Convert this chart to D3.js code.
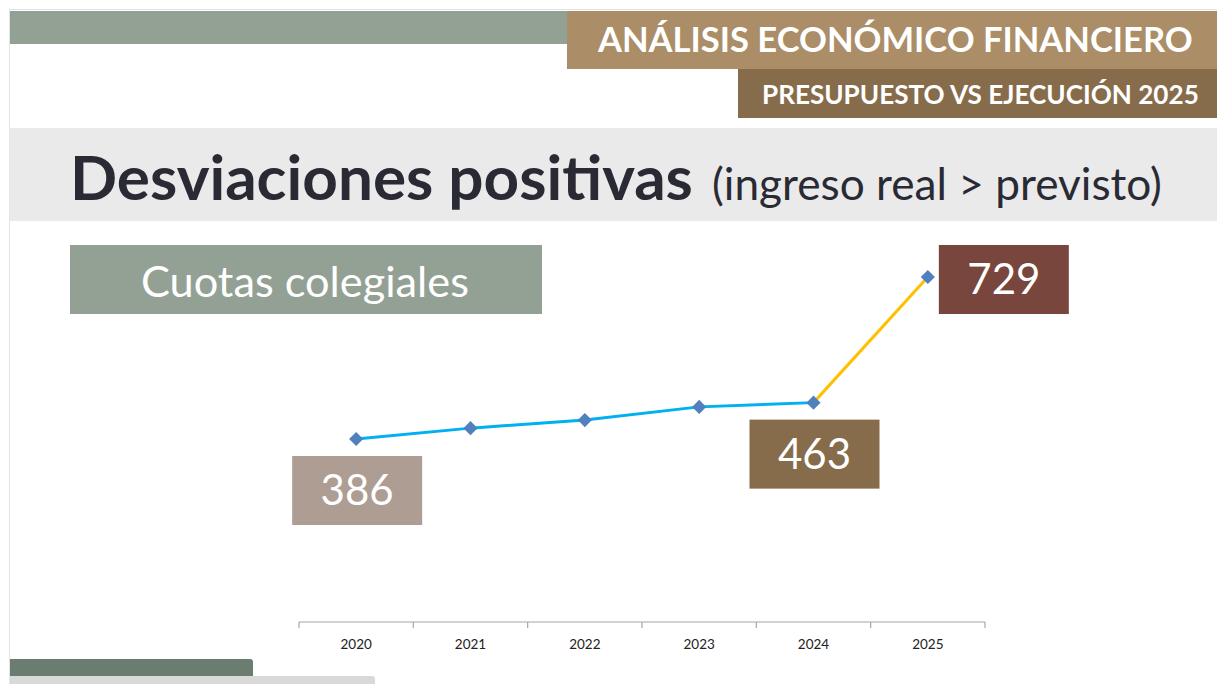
<!DOCTYPE html>
<html>
<head>
<meta charset="utf-8">
<script src="https://cdn.jsdelivr.net/npm/d3@7"></script>
<style>
  html, body { margin: 0; padding: 0; background: #ffffff; }
  svg { display: block; }
  text { font-family: Lato, "Open Sans", sans-serif; }
</style>
</head>
<body>
<svg id="chart" width="1217" height="684"></svg>
<script>
// ---- data ----
const years = ["2020", "2021", "2022", "2023", "2024", "2025"];
const values = [386, 409, 426, 454, 463, 729];
const labelIndex = [0, 4, 5];
const labelColors = ["#ae9d93", "#876c4b", "#78463d"];
const headerTitle = "ANÁLISIS ECONÓMICO FINANCIERO";
const headerSub = "PRESUPUESTO VS EJECUCIÓN 2025";
const titleMain = "Desviaciones positivas";
const titleNote = "(ingreso real > previsto)";
const seriesName = "Cuotas colegiales";

const svg = d3.select("#chart");

function fitText(sel, target) {
  const w = sel.node().getComputedTextLength();
  const fs = parseFloat(sel.attr("font-size"));
  sel.attr("font-size", fs * target / w);
  return sel;
}

// slide border
svg.append("rect").attr("x", 9.5).attr("y", 9.5).attr("width", 1220).attr("height", 700)
  .attr("fill", "#ffffff").attr("stroke", "#e3e3e3").attr("stroke-width", 1);

// top header
svg.append("rect").attr("x", 10).attr("y", 11).attr("width", 557).attr("height", 33).attr("fill", "#93a195");
svg.append("rect").attr("x", 567).attr("y", 11).attr("width", 650).attr("height", 58).attr("fill", "#ab8e68");
svg.append("rect").attr("x", 738).attr("y", 69).attr("width", 479).attr("height", 49).attr("fill", "#876c4b");

fitText(svg.append("text").attr("x", 598).attr("y", 52).attr("font-size", 32).attr("font-weight", "bold")
  .attr("fill", "#ffffff").text(headerTitle), 595);
fitText(svg.append("text").attr("x", 762).attr("y", 104).attr("font-size", 22).attr("font-weight", "bold")
  .attr("fill", "#ffffff").text(headerSub), 437);

// title band
svg.append("rect").attr("x", 10).attr("y", 128).attr("width", 1207).attr("height", 93).attr("fill", "#e9eae9");
fitText(svg.append("text").attr("x", 70).attr("y", 200).attr("font-size", 56).attr("font-weight", "bold")
  .attr("fill", "#2a2a35").text(titleMain), 623);
fitText(svg.append("text").attr("x", 712).attr("y", 200).attr("font-size", 38)
  .attr("fill", "#2a2a35").text(titleNote), 450);

// series name box
svg.append("rect").attr("x", 70).attr("y", 245).attr("width", 472).attr("height", 69).attr("fill", "#93a195");
fitText(svg.append("text").attr("x", 141).attr("y", 297).attr("font-size", 40)
  .attr("fill", "#ffffff").text(seriesName), 328);

// scales
const x = d3.scaleBand().domain(years).range([299, 985]).padding(0);
const y = d3.scaleLinear().domain([0, 800]).range([621.3, 621.3 - 800 * 0.4723]);
const cx = d => x(d) + x.bandwidth() / 2;

// axis
const axisY = 622;
const axisG = svg.append("g").attr("transform", `translate(0,${axisY})`)
  .call(d3.axisBottom(x).tickSize(0).tickPadding(17));
axisG.select(".domain").attr("stroke", "#a6a6a6").attr("stroke-width", 1.2).attr("d", `M299,0H985`);
axisG.selectAll(".tick text").attr("font-size", 13.5).attr("fill", "#222222")
  .attr("font-family", "Lato, 'Open Sans', sans-serif");
const bounds = years.map(d => x(d)).concat([x(years[years.length - 1]) + x.bandwidth()]);
svg.append("g").selectAll("line").data(bounds).join("line")
  .attr("x1", d => d).attr("x2", d => d).attr("y1", axisY).attr("y2", axisY + 6)
  .attr("stroke", "#a6a6a6").attr("stroke-width", 1.2);

// lines
const pts = years.map((d, i) => [cx(d), y(values[i])]);
const line = d3.line();
svg.append("path").attr("d", line(pts.slice(0, 5))).attr("fill", "none")
  .attr("stroke", "#00b0f0").attr("stroke-width", 3);
svg.append("path").attr("d", line(pts.slice(4, 6))).attr("fill", "none")
  .attr("stroke", "#ffc000").attr("stroke-width", 3);

// markers
svg.append("g").selectAll("path").data(pts).join("path")
  .attr("d", d3.symbol(d3.symbolSquare, 100)())
  .attr("transform", d => `translate(${d[0]},${d[1]}) rotate(45)`)
  .attr("fill", "#4f81bd");

// data labels
const bw = 130, bh = 69;
labelIndex.forEach((idx, k) => {
  const px = cx(years[idx]), py = y(values[idx]);
  let bx, by;
  if (idx === years.length - 1) { bx = px + 11; by = py - 32; }
  else { bx = px - bw / 2 + 1; by = py + 17; }
  svg.append("rect").attr("x", bx).attr("y", by).attr("width", bw).attr("height", bh).attr("fill", labelColors[k]);
  svg.append("text").attr("x", bx + bw / 2).attr("y", by + bh / 2 + 15)
    .attr("text-anchor", "middle").attr("font-size", 42).attr("fill", "#ffffff")
    .text(values[idx]);
});

// footer bars
svg.append("path").attr("d", "M10,676V659H250a3,3 0 0 1 3,3V676Z").attr("fill", "#6b7c70");
svg.append("path").attr("d", "M10,684V676H372a3,3 0 0 1 3,3V684Z").attr("fill", "#d9d9d9");
</script>
</body>
</html>
